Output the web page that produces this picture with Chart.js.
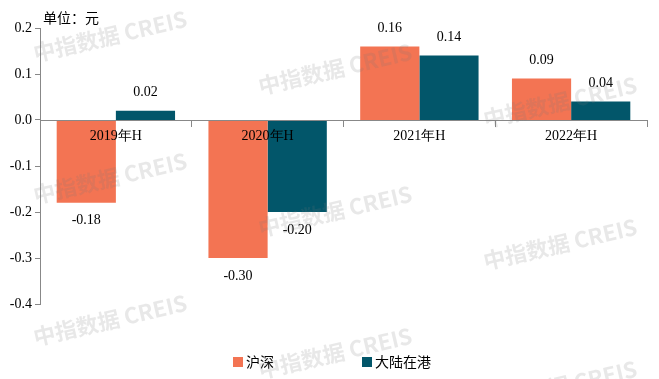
<!DOCTYPE html>
<html>
<head>
<meta charset="utf-8">
<script src="https://cdn.jsdelivr.net/npm/chart.js@4/dist/chart.umd.min.js"></script>
<style>
  html, body { margin: 0; padding: 0; background: #fff; }
  #wrap { width: 659px; height: 379px; }
</style>
</head>
<body>
<div id="wrap"><canvas id="bar-chart"></canvas></div>
<script>
const categories = ["2019年H", "2020年H", "2021年H", "2022年H"];
const seriesNames = ["沪深", "大陆在港"];
const huShen = [-0.18, -0.30, 0.16, 0.09];
const daluZaiGang = [0.02, -0.20, 0.14, 0.04];
const seriesColors = ["#F37453", "#02566A"];
const unitText = "单位：元";
const watermark = "中指数据 CREIS";

const serif = "'Liberation Serif', 'Times New Roman', serif";
const cjk = "'Noto Sans CJK SC', sans-serif";

// 数值标签
const valueLabels = {
  id: "valueLabels",
  afterDatasetsDraw(chart) {
    const ctx = chart.ctx;
    ctx.save();
    ctx.font = "14px " + serif;
    ctx.fillStyle = "#000";
    ctx.textAlign = "center";
    ctx.textBaseline = "middle";
    chart.data.datasets.forEach((ds, i) => {
      chart.getDatasetMeta(i).data.forEach((bar, j) => {
        const v = ds.data[j];
        const y = v >= 0 ? bar.y - 18 : bar.y + 18;
        ctx.fillText(v.toFixed(2), bar.x, y);
      });
    });
    ctx.restore();
  },
};

// 单位、图例、水印
const extras = {
  id: "extras",
  afterDraw(chart) {
    const ctx = chart.ctx;
    ctx.save();
    ctx.fillStyle = "#000";
    ctx.font = "14px " + cjk;
    ctx.textBaseline = "middle";
    ctx.textAlign = "left";
    ctx.fillText(unitText, 43, 18);

    const legendX = [233, 362];
    chart.data.datasets.forEach((ds, i) => {
      ctx.fillStyle = ds.backgroundColor;
      ctx.fillRect(legendX[i], 357, 10, 10);
      ctx.fillStyle = "#000";
      ctx.fillText(ds.label, legendX[i] + 13, 362);
    });

    ctx.font = "bold 22px " + cjk;
    ctx.fillStyle = "rgba(120,120,120,0.17)";
    ctx.textAlign = "center";
    for (let col = 0; col < 3; col++) {
      for (let row = -1; row < 3; row++) {
        const cx = 110 + col * 225;
        const cy = 36 + row * 142 + col * 33;
        ctx.save();
        ctx.translate(cx, cy);
        ctx.rotate(-13 * Math.PI / 180);
        ctx.fillText(watermark, 0, 0);
        ctx.restore();
      }
    }
    ctx.restore();
  },
};

new Chart(document.getElementById("bar-chart"), {
  type: "bar",
  data: {
    labels: categories,
    datasets: [
      { label: seriesNames[0], data: huShen, backgroundColor: seriesColors[0] },
      { label: seriesNames[1], data: daluZaiGang, backgroundColor: seriesColors[1] },
    ],
  },
  options: {
    responsive: true,
    maintainAspectRatio: false,
    animation: false,
    layout: { padding: { left: 0, right: 12, top: 28, bottom: 75 } },
    datasets: { bar: { categoryPercentage: 0.78, barPercentage: 1 } },
    plugins: {
      legend: { display: false },
      tooltip: { enabled: false },
    },
    scales: {
      x: {
        position: { y: 0 },
        grid: { offset: true, drawOnChartArea: false, tickLength: 6, color: "#888", z: 1 },
        border: { color: "#888", z: 1 },
        ticks: { color: "#000", font: { size: 14, family: serif }, padding: 2, z: 1 },
      },
      y: {
        min: -0.4,
        max: 0.2,
        afterFit(scale) { scale.width = 40; },
        grid: { drawOnChartArea: false, tickLength: 5, color: "#888" },
        border: { color: "#888" },
        ticks: {
          stepSize: 0.1,
          color: "#000",
          font: { size: 14, family: serif },
          callback: (v) => v.toFixed(1),
        },
      },
    },
  },
  plugins: [valueLabels, extras],
});
</script>
</body>
</html>
